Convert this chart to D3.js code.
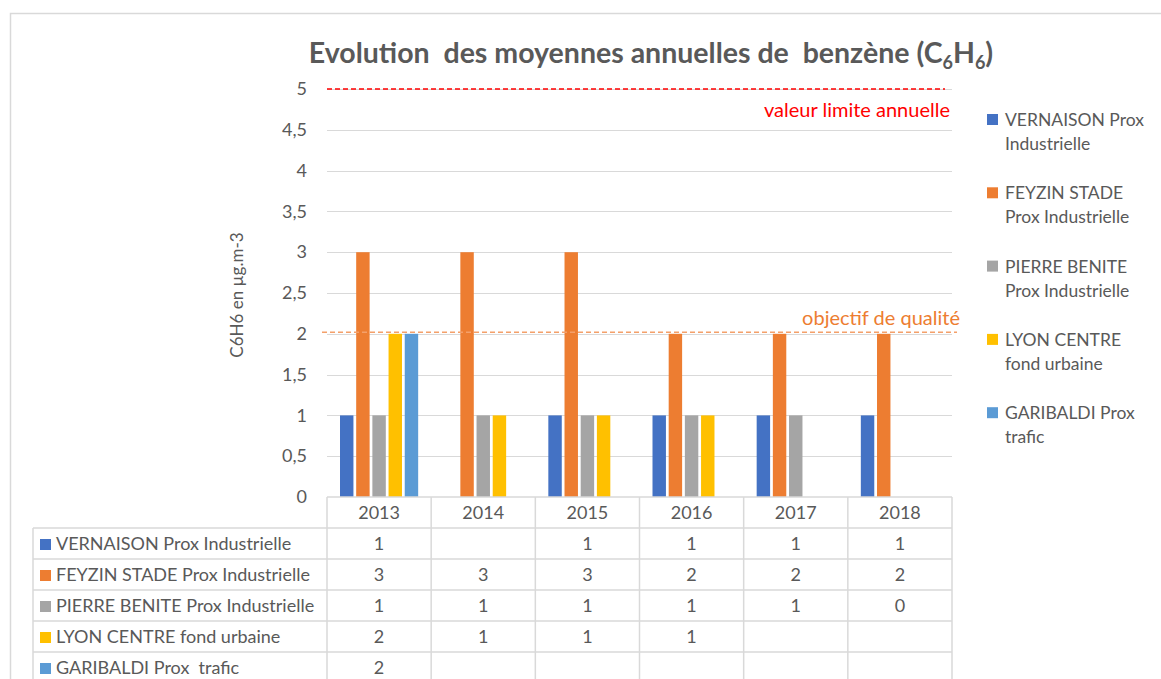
<!DOCTYPE html>
<html>
<head>
<meta charset="utf-8">
<script src="https://cdn.jsdelivr.net/npm/d3@7"></script>
<style>
body{margin:0;background:#fff;}
svg text{font-family:Lato,"Liberation Sans",sans-serif;}
</style>
</head>
<body>
<div id="chart"></div>
<script>
// valeurs
var years = ["2013","2014","2015","2016","2017","2018"];
var seriesNames = ["VERNAISON Prox Industrielle","FEYZIN STADE Prox Industrielle","PIERRE BENITE Prox Industrielle","LYON CENTRE fond urbaine","GARIBALDI Prox  trafic"];
var legendLines = [["VERNAISON Prox","Industrielle"],["FEYZIN STADE","Prox Industrielle"],["PIERRE BENITE","Prox Industrielle"],["LYON CENTRE","fond urbaine"],["GARIBALDI Prox","trafic"]];
var colors = ["#4472C4","#ED7D31","#A5A5A5","#FFC000","#5B9BD5"];
var vernaison = [1, null, 1, 1, 1, 1];
var feyzin = [3, 3, 3, 2, 2, 2];
var pierreBenite = [1, 1, 1, 1, 1, 0];
var lyonCentre = [2, 1, 1, 1, null, null];
var garibaldi = [2, null, null, null, null, null];
var yTicks = [0,0.5,1,1.5,2,2.5,3,3.5,4,4.5,5];
var valeurLimite = 5;
var objectifQualite = 2.02;

var allSeries = [vernaison, feyzin, pierreBenite, lyonCentre, garibaldi];

var W = 1161, H = 679;
var svg = d3.select("#chart").append("svg")
  .attr("width", W).attr("height", H);

// cadre
svg.append("path")
  .attr("d", "M10.5," + H + "V13.5H" + W)
  .attr("fill", "none").attr("stroke", "#d9d9d9").attr("stroke-width", 1.5);

var x = d3.scaleBand().domain(years).range([327, 952]);
var y = d3.scaleLinear().domain([0, 5]).range([497, 89]);
var x1 = d3.scaleBand().domain(d3.range(seriesNames.length))
  .range([13, x.bandwidth() - 13]).paddingInner(0.17);

var fr = d3.formatLocale({decimal: ",", thousands: " ", grouping: [3], currency: ["", "€"]});
var fmt = fr.format("~g");

// grille
svg.append("g").selectAll("line")
  .data(yTicks.filter(function(d){ return d > 0; }))
  .enter().append("line")
  .attr("x1", x.range()[0]).attr("x2", x.range()[1])
  .attr("y1", function(d){ return Math.round(y(d)) + 0.5; })
  .attr("y2", function(d){ return Math.round(y(d)) + 0.5; })
  .attr("stroke", "#d9d9d9").attr("stroke-width", 1);

// axe y
var yAxis = svg.append("g")
  .attr("transform", "translate(" + x.range()[0] + ",0)")
  .call(d3.axisLeft(y).tickValues(yTicks).tickFormat(fmt).tickSize(0).tickPadding(20));
yAxis.select(".domain").remove();
yAxis.selectAll("text").attr("font-size", 18).attr("fill", "#595959")
  .style("font-family", "Lato, sans-serif");

svg.append("text")
  .attr("transform", "translate(243,295) rotate(-90)")
  .attr("text-anchor", "middle")
  .attr("font-size", 17).attr("fill", "#595959")
  .text("C6H6 en µg.m-3");

// barres
var groups = svg.append("g").selectAll("g")
  .data(allSeries).enter().append("g")
  .attr("fill", function(d, i){ return colors[i]; });

groups.each(function(vals, si){
  d3.select(this).selectAll("rect")
    .data(vals.map(function(v, yi){ return {v: v, year: years[yi]}; })
      .filter(function(d){ return d.v != null && d.v > 0; }))
    .enter().append("rect")
    .attr("x", function(d){ return x(d.year) + x1(si); })
    .attr("width", x1.bandwidth())
    .attr("y", function(d){ return y(d.v); })
    .attr("height", function(d){ return y(0) - y(d.v); });
});

// lignes de référence
svg.append("line")
  .attr("x1", x.range()[0]).attr("x2", 945)
  .attr("y1", y(valeurLimite)).attr("y2", y(valeurLimite))
  .attr("stroke", "#ff0000").attr("stroke-width", 1.5)
  .attr("stroke-dasharray", "5,3");
svg.append("text")
  .attr("x", 950).attr("y", y(valeurLimite) + 28)
  .attr("text-anchor", "end").attr("font-size", 20).attr("fill", "#ff0000")
  .text("valeur limite annuelle");

svg.append("line")
  .attr("x1", 322).attr("x2", 957)
  .attr("y1", y(objectifQualite)).attr("y2", y(objectifQualite))
  .attr("stroke", "#F4A06A").attr("stroke-width", 1.5)
  .attr("stroke-dasharray", "5,3");
svg.append("text")
  .attr("x", 960).attr("y", y(objectifQualite) - 7)
  .attr("text-anchor", "end").attr("font-size", 20).attr("fill", "#ED7D31")
  .text("objectif de qualité");

// titre
var title = svg.append("text")
  .attr("x", 651).attr("y", 63)
  .attr("text-anchor", "middle")
  .attr("font-size", 28.5).attr("font-weight", "bold").attr("fill", "#595959")
  .style("white-space", "pre");
title.append("tspan").text("Evolution  des moyennes annuelles de  benzène (C");
title.append("tspan").attr("font-size", 18).attr("dy", 6).text("6");
title.append("tspan").attr("dy", -6).text("H");
title.append("tspan").attr("font-size", 18).attr("dy", 6).text("6");
title.append("tspan").attr("dy", -6).text(")");

// légende
var leg = svg.append("g").selectAll("g")
  .data(legendLines).enter().append("g")
  .attr("transform", function(d, i){ return "translate(987," + (114 + i * 73.3) + ")"; });
leg.append("rect").attr("width", 11).attr("height", 11)
  .attr("fill", function(d, i){ return colors[i]; });
leg.append("text")
  .attr("x", 18).attr("y", 12)
  .attr("font-size", 17.5).attr("fill", "#595959")
  .selectAll("tspan").data(function(d){ return d; }).enter().append("tspan")
  .attr("x", 18).attr("dy", function(d, i){ return i ? 24 : 0; })
  .text(function(d){ return d; });

// tableau de données
var rowH = 31, top0 = 497, labelX = 33;
var tbl = svg.append("g").attr("stroke", "#d9d9d9").attr("stroke-width", 1.5);
// lignes horizontales
tbl.append("line").attr("x1", x.range()[0]).attr("x2", x.range()[1]).attr("y1", top0).attr("y2", top0);
d3.range(1, seriesNames.length + 1).forEach(function(r){
  tbl.append("line").attr("x1", labelX).attr("x2", x.range()[1])
    .attr("y1", top0 + r * rowH).attr("y2", top0 + r * rowH);
});
// lignes verticales
tbl.append("line").attr("x1", labelX).attr("x2", labelX).attr("y1", top0 + rowH).attr("y2", H);
years.forEach(function(yr){
  tbl.append("line").attr("x1", x(yr)).attr("x2", x(yr)).attr("y1", top0).attr("y2", H);
});
tbl.append("line").attr("x1", x.range()[1]).attr("x2", x.range()[1]).attr("y1", top0).attr("y2", H);

svg.append("g").selectAll("text").data(years).enter().append("text")
  .attr("x", function(d){ return x(d) + x.bandwidth() / 2; })
  .attr("y", top0 + 22).attr("text-anchor", "middle")
  .attr("font-size", 18).attr("fill", "#595959")
  .text(function(d){ return d; });

var rows = svg.append("g").selectAll("g").data(seriesNames).enter().append("g")
  .attr("transform", function(d, i){ return "translate(0," + (top0 + (i + 1) * rowH) + ")"; });
rows.append("rect").attr("x", 40).attr("y", 11).attr("width", 11).attr("height", 11)
  .attr("fill", function(d, i){ return colors[i]; });
rows.append("text").attr("x", 56).attr("y", 22)
  .attr("font-size", 18).attr("fill", "#595959")
  .style("white-space", "pre")
  .text(function(d){ return d; });
rows.each(function(name, si){
  d3.select(this).selectAll("text.val")
    .data(allSeries[si].map(function(v, yi){ return {v: v, year: years[yi]}; })
      .filter(function(d){ return d.v != null; }))
    .enter().append("text").attr("class", "val")
    .attr("x", function(d){ return x(d.year) + x.bandwidth() / 2; })
    .attr("y", 22).attr("text-anchor", "middle")
    .attr("font-size", 18).attr("fill", "#595959")
    .text(function(d){ return fmt(d.v); });
});
</script>
</body>
</html>
